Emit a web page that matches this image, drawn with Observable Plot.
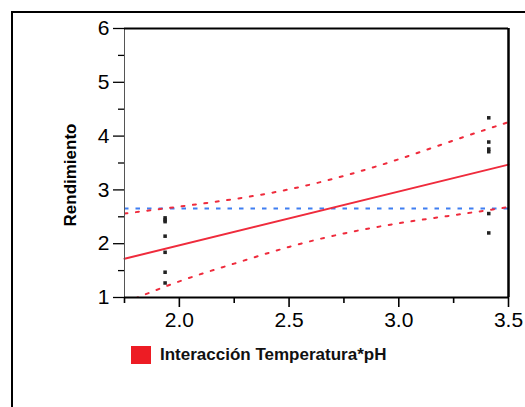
<!DOCTYPE html>
<html>
<head>
<meta charset="utf-8">
<script src="https://cdn.jsdelivr.net/npm/d3@7"></script>
<script src="https://cdn.jsdelivr.net/npm/@observablehq/plot@0.6"></script>
<style>
  html, body { margin: 0; padding: 0; background: #fff; width: 525px; height: 407px; overflow: hidden; }
  #wrap { position: relative; width: 525px; height: 407px; }
  #frame { position: absolute; left: 11px; top: 11px; width: 700px; height: 600px;
           border-left: 2px solid #000; border-top: 2px solid #000; }
  #chart { position: absolute; left: 0; top: 0; }
  #ylabel { position: absolute; left: 71px; top: 175px; transform: translate(-50%, -50%) rotate(-90deg);
            font: bold 17px "Liberation Sans", Arial, sans-serif; color: #000; white-space: nowrap; }
  #legend { position: absolute; left: 131px; top: 346px; height: 18px; display: flex; align-items: center;
            font: bold 17px "Liberation Sans", Arial, sans-serif; color: #111; white-space: nowrap; }
  #legend .sw { width: 20px; height: 18px; background: #ed1c24; margin-right: 9px; }
</style>
</head>
<body>
<div id="wrap">
  <div id="frame"></div>
  <div id="chart"></div>
  <div id="ylabel">Rendimiento</div>
  <div id="legend"><span class="sw"></span><span>Interacción Temperatura*pH</span></div>
</div>
<script>
// Axis ticks
const xTicks = [2.0, 2.5, 3.0, 3.5];
const xMinor = [1.75, 2.25, 2.75, 3.25];
const yTicks = [1, 2, 3, 4, 5, 6];
const yMinor = [1.5, 2.5, 3.5, 4.5, 5.5];

// Observations (Interacción Temperatura*pH vs Rendimiento)
const obsX = [1.935, 1.935, 1.935, 1.935, 1.935, 1.935, 1.935, 3.41, 3.41, 3.41, 3.41, 3.41, 3.41];
const obsY = [2.48, 2.44, 2.41, 2.14, 1.84, 1.47, 1.27, 4.34, 3.89, 3.76, 3.71, 2.56, 2.20];

// Fitted line
const fitX = [1.75, 3.5];
const fitY = [1.72, 3.47];

// Mean line
const meanY = [2.655];

// Confidence curves
const ciX = [1.75, 2.0, 2.25, 2.5, 2.75, 3.0, 3.25, 3.5];
const ciUpper = [2.56, 2.69, 2.83, 3.01, 3.26, 3.57, 3.92, 4.26];
const ciLower = [0.90, 1.30, 1.63, 1.94, 2.19, 2.38, 2.53, 2.68];

const points = obsX.map((x, i) => ({x, y: obsY[i]}));
const fit = fitX.map((x, i) => ({x, y: fitY[i]}));
const upper = ciX.map((x, i) => ({x, y: ciUpper[i]}));
const lower = ciX.map((x, i) => ({x, y: ciLower[i]}));

const red = "#ef2b3c";
const blue = "#3f7ef2";

const chart = Plot.plot({
  width: 525,
  height: 340,
  marginLeft: 124,
  marginRight: 17,
  marginTop: 28,
  marginBottom: 43,
  x: {domain: [1.75, 3.5]},
  y: {domain: [1, 6]},
  style: {background: "transparent", overflow: "visible", color: "#000",
          fontFamily: "'Liberation Sans', Arial, sans-serif"},
  marks: [
    Plot.axisY(yTicks, {tickSize: 11, tickPadding: 4, fontSize: 21, strokeWidth: 1.3,
                        tickFormat: d3.format("d"), label: null}),
    Plot.axisY(yMinor, {tickSize: 6, tickFormat: () => "", strokeWidth: 1.3, label: null}),
    Plot.axisX(xTicks, {tickSize: 10, tickPadding: 5, fontSize: 21, strokeWidth: 1.6,
                        tickFormat: d3.format(".1f"), label: null}),
    Plot.axisX(xMinor, {tickSize: 6, tickFormat: () => "", strokeWidth: 1.6, label: null}),
    Plot.ruleY(meanY, {stroke: blue, strokeWidth: 2, strokeDasharray: "4.5,7"}),
    Plot.line(upper, {x: "x", y: "y", stroke: red, strokeWidth: 2, strokeDasharray: "3,8.5", curve: "natural", clip: true}),
    Plot.line(lower, {x: "x", y: "y", stroke: red, strokeWidth: 2, strokeDasharray: "3,8.5", curve: "natural", clip: true}),
    Plot.line(fit, {x: "x", y: "y", stroke: red, strokeWidth: 2}),
    Plot.dot(points, {x: "x", y: "y", symbol: "square", r: 2, fill: "#222", stroke: null}),
    Plot.ruleX([1.75], {stroke: "#555", strokeWidth: 1}),
    Plot.ruleY([1], {stroke: "#000", strokeWidth: 2}),
    Plot.ruleY([6], {stroke: "#000", strokeWidth: 2}),
    Plot.ruleX([3.5], {stroke: "#000", strokeWidth: 2.5})
  ]
});
document.getElementById("chart").appendChild(chart);
</script>
</body>
</html>
